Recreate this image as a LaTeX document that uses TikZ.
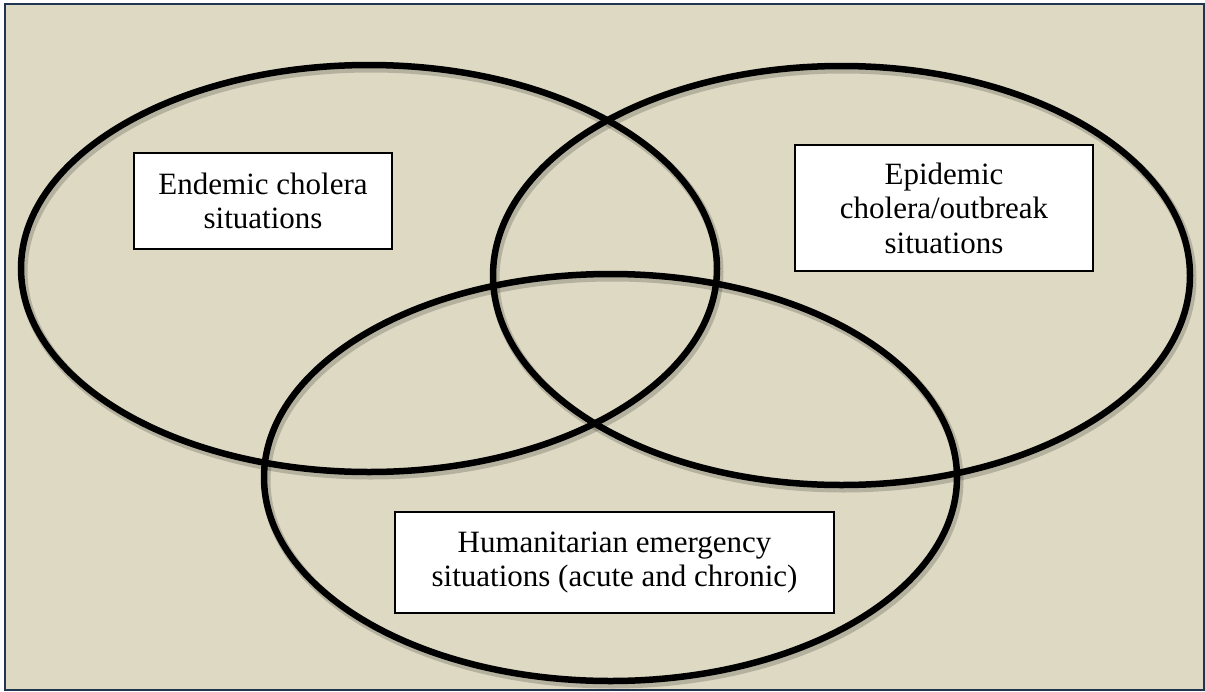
\documentclass[tikz,border=0pt]{standalone}
\usepackage{fontspec}
\setmainfont{Liberation Serif}
\definecolor{bgtan}{HTML}{DDD9C3}
\definecolor{framenavy}{HTML}{1F3550}
\begin{document}
\begin{tikzpicture}[x=1pt,y=-1pt,
  ring/.style={line width=6.5pt,draw=black},
  ringshadow/.style={line width=9pt,draw=black,opacity=0.18},
  labelbox/.style={draw=black,line width=1.3pt,fill=white,align=center,inner sep=0pt,
    font=\fontsize{31pt}{34.5pt}\selectfont}
]
\useasboundingbox (0,0) rectangle (1205,691);
\fill[white] (0,0) rectangle (1205,691);
\draw[fill=bgtan,draw=framenavy,line width=1.6pt] (5,4) rectangle (1204,690);

% shadows
\draw[ringshadow] (371,271.5) ellipse [x radius=348pt, y radius=203.5pt];
\draw[ringshadow] (843.5,278.5) ellipse [x radius=348.5pt, y radius=209.5pt];
\draw[ringshadow] (612.5,480.5) ellipse [x radius=346.5pt, y radius=203.5pt];

% rings
\draw[ring] (369,268.5) ellipse [x radius=348pt, y radius=203.5pt];
\draw[ring] (841.5,275.5) ellipse [x radius=348.5pt, y radius=209.5pt];
\draw[ring] (610.5,477.5) ellipse [x radius=346.5pt, y radius=203.5pt];

% labels
\node[labelbox,minimum width=258pt,minimum height=96pt] (endemic) at (263,201)
  {Endemic cholera\\situations};
\node[labelbox,minimum width=298pt,minimum height=126pt] (epidemic) at (944,208)
  {Epidemic\\cholera/outbreak\\situations};
\node[labelbox,minimum width=439pt,minimum height=101pt] (humanitarian) at (614.5,562.5)
  {Humanitarian emergency\\situations (acute and chronic)};
\end{tikzpicture}
\end{document}
